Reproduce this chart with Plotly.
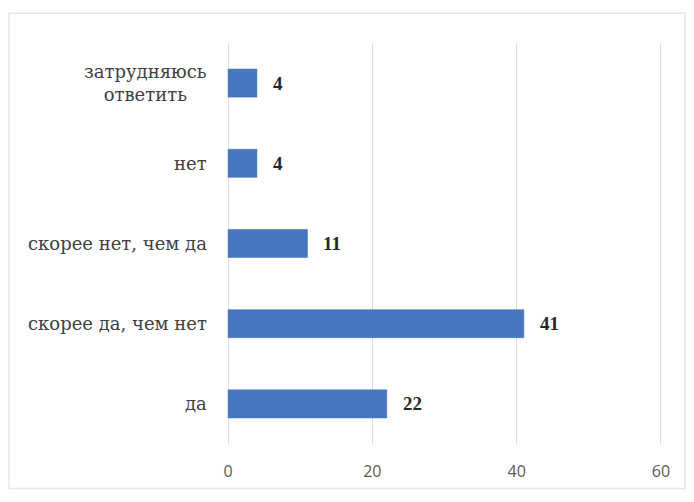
import plotly.graph_objects as go

categories = ["да", "скорее да, чем нет", "скорее нет, чем да", "нет", "затрудняюсь<br>ответить"]
values = [22, 41, 11, 4, 4]
x_ticks = [0, 20, 40, 60]

OFF = 8
W, H = 694 - 2 * OFF, 502 - 2 * OFF
L, R, T, B = 227 - OFF, 694 - OFF - 662, 43 - OFF, (502 - OFF) - 448

fig = go.Figure()
fig.add_trace(go.Bar(
    y=categories, x=values, orientation="h",
    marker=dict(color="#4677C0", line=dict(color="#3F6DB3", width=0.5)),
    width=0.35, hoverinfo="skip",
))

for c, v in zip(categories, values):
    fig.add_annotation(x=v, y=c, xref="x", yref="y", text=f"<b>{v}</b>",
                       showarrow=False, xanchor="left", xshift=14,
                       font=dict(family="Liberation Serif", size=19, color="#262626"))
    # category label, centred lines, right edge just left of the plot
    fig.add_annotation(x=0, y=c, xref="paper", yref="y", text=c,
                       showarrow=False, xanchor="right", align="center", xshift=-18,
                       font=dict(family="DejaVu Serif", size=18, color="#404040"))

pw = W - L - R
ph = H - T - B
fig.add_shape(type="rect", xref="paper", yref="paper",
              x0=(1 - L) / pw, x1=(W - 1 - L) / pw,
              y0=(H - B - (H - 1)) / ph, y1=(H - B - 5) / ph,
              line=dict(color="#E6E6E6", width=1.5), fillcolor="rgba(0,0,0,0)", layer="below")

fig.update_layout(
    width=W, height=H,
    margin=dict(l=L, r=R, t=T, b=B),
    paper_bgcolor="white", plot_bgcolor="white",
    showlegend=False,
    xaxis=dict(range=[-0.15, 60.15], tickvals=x_ticks, showgrid=True, gridcolor="#DDDDDD",
               gridwidth=1, zeroline=False, showline=False, ticks="",
               tickfont=dict(family="Open Sans", size=16, color="#595959"),
               ticklabelstandoff=16),
    yaxis=dict(categoryorder="array", categoryarray=categories, showgrid=False,
               zeroline=False, showline=False, ticks="", showticklabels=False),
)

fig.write_html("out.html")
